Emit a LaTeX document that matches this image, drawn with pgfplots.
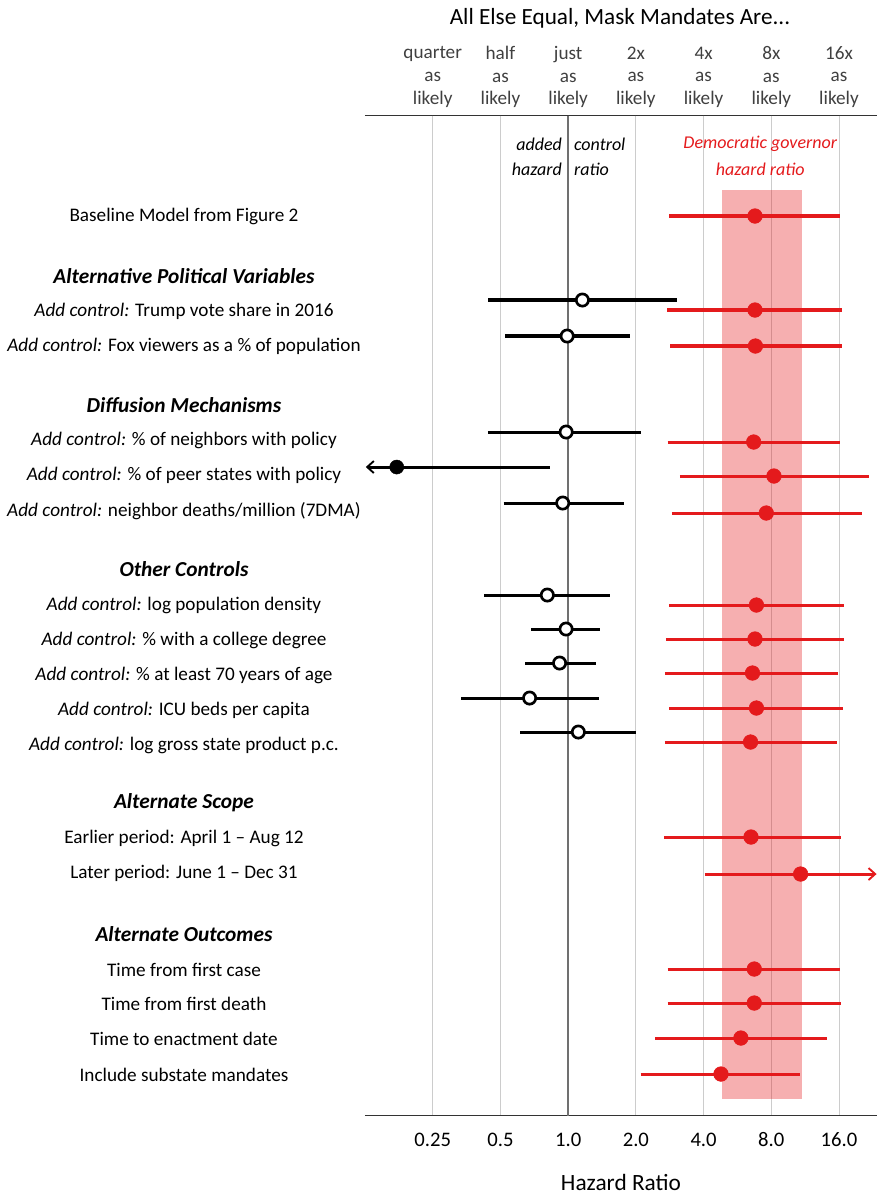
\documentclass[border=0pt]{standalone}
\usepackage{fontspec}
\setmainfont{Carlito}
\usepackage{pgfplots}
\pgfplotsset{compat=1.18}
\usetikzlibrary{arrows.meta}
\definecolor{dred}{HTML}{E41A1C}
\definecolor{gridgray}{HTML}{CCCCCC}
\definecolor{midgray}{HTML}{707070}
\definecolor{toptext}{HTML}{404040}
\newcommand{\lblfont}{\fontsize{14.4}{17}\selectfont}
\newcommand{\hdrfont}{\fontsize{16}{19}\selectfont\bfseries\itshape}
\begin{document}
\begin{tikzpicture}
\useasboundingbox (-273.75pt,-58.7pt) rectangle (385.5pt,836.8pt);
% top axis with verbal tick labels
\begin{axis}[
  at={(0,0)}, anchor=south west,
  scale only axis, width=384pt, height=750pt,
  xmode=log, log basis x=2, xmin=0.125, xmax=23.6,
  ymin=115.7, ymax=1115.7, y dir=reverse,
  axis x line*=top, axis y line=none,
  x axis line style={black!80, line width=1.1pt},
  major tick length=0pt,
  xtick={0.25,0.5,1,2,4,8,16},
  xticklabels={quarter\\as\\likely, half\\as\\likely, just\\as\\likely, 2x\\as\\likely, 4x\\as\\likely, 8x\\as\\likely, 16x\\as\\likely},
  xticklabel style={align=center, anchor=center, yshift=29pt, font=\lblfont, text=toptext},
]
\addplot[draw=none] coordinates {(1,500)};
\end{axis}
\begin{axis}[
  at={(0,0)}, anchor=south west,
  scale only axis, width=384pt, height=750pt,
  xmode=log, log basis x=2, xmin=0.125, xmax=23.6,
  ymin=115.7, ymax=1115.7, y dir=reverse,
  axis x line*=bottom, axis y line=none,
  x axis line style={black!80, line width=1.1pt},
  major tick length=0pt,
  xtick={0.25,0.5,1,2,4,8,16},
  xticklabels={0.25,0.5,1.0,2.0,4.0,8.0,16.0},
  xticklabel style={anchor=center, yshift=-18pt, font=\fontsize{15.5}{18}\selectfont},
  xmajorgrids, grid style={gridgray, line width=0.75pt},
  xlabel={Hazard Ratio},
  xlabel style={at={(axis description cs:0.5,0)}, anchor=center, inner sep=0pt, yshift=-50pt, font=\fontsize{17.5}{20}\selectfont},
  clip=false,
]
% shaded band
\addplot[fill=dred, fill opacity=0.35, draw=none] coordinates {(4.84,190) (11.0,190) (11.0,1099) (4.84,1099)} -- cycle;
% reference line at 1
\addplot[midgray, line width=1.5pt] coordinates {(1,115.7) (1,1115.7)};
% black CIs
\addplot[black, line width=2.3pt, unbounded coords=jump] coordinates {
(0.441,300) (3.04,300) (nan,nan)
(0.525,336) (1.88,336) (nan,nan)
(0.44,432) (2.11,432) (nan,nan)
(0.516,503) (1.78,503) (nan,nan)
(0.424,595) (1.53,595) (nan,nan)
(0.686,629) (1.385,629) (nan,nan)
(0.645,663) (1.33,663) (nan,nan)
(0.335,698) (1.37,698) (nan,nan)
(0.613,732) (2.0,732)
};
\addplot[black, line width=2.3pt, -{Straight Barb[length=5pt,width=9pt,line width=1.4pt]}] coordinates {(0.83,467) (0.126,467)};
% red CIs
\addplot[draw=dred, line width=2.3pt, unbounded coords=jump] coordinates {
(2.81,216) (16.1,216) (nan,nan)
(2.76,310) (16.5,310) (nan,nan)
(2.84,346) (16.5,346) (nan,nan)
(2.77,442) (16.1,442) (nan,nan)
(3.14,476) (21.8,476) (nan,nan)
(2.89,513) (20.2,513) (nan,nan)
(2.81,605) (16.9,605) (nan,nan)
(2.72,639) (16.9,639) (nan,nan)
(2.69,673) (15.9,673) (nan,nan)
(2.81,708) (16.7,708) (nan,nan)
(2.69,742) (15.6,742) (nan,nan)
(2.67,837) (16.3,837) (nan,nan)
(2.77,969) (16.1,969) (nan,nan)
(2.77,1003) (16.3,1003) (nan,nan)
(2.44,1038) (14.1,1038) (nan,nan)
(2.10,1074) (10.76,1074)
};
\addplot[draw=dred, line width=2.3pt, -{Straight Barb[length=5pt,width=9pt,line width=1.4pt]}] coordinates {(4.05,874) (23.5,874)};
% black points (open)
\addplot[black, only marks, mark=*, mark size=4.6pt, mark options={fill=white, draw=black, line width=2pt}] coordinates {
(1.157,300) (0.99,336) (0.98,432) (0.946,503) (0.808,595) (0.979,629) (0.916,663) (0.674,698) (1.11,732)
};
% black filled point
\addplot[black, only marks, mark=*, mark size=5.3pt, mark options={fill=black, draw=black, line width=0.3pt}] coordinates {(0.173,467)};
% red points
\addplot[dred, only marks, mark=*, mark size=5.5pt, mark options={fill=dred, draw=dred, line width=0.4pt}] coordinates {
(6.77,216) (6.77,310) (6.80,346) (6.68,442) (8.22,476) (7.60,513) (6.87,605) (6.77,639) (6.60,673) (6.87,708) (6.47,742) (6.50,837) (10.8,874) (6.72,969) (6.72,1003) (5.86,1038) (4.78,1074)
};
% annotations
\node[anchor=east, inner sep=0pt, xshift=-4.5pt, font=\fontsize{13.5}{16}\selectfont\itshape] at (axis cs:1,144) {added};
\node[anchor=east, inner sep=0pt, xshift=-4.5pt, font=\fontsize{13.5}{16}\selectfont\itshape] at (axis cs:1,169) {hazard};
\node[anchor=west, inner sep=0pt, xshift=4.3pt, font=\fontsize{13.5}{16}\selectfont\itshape] at (axis cs:1,144) {control};
\node[anchor=west, inner sep=0pt, xshift=4.3pt, font=\fontsize{13.5}{16}\selectfont\itshape] at (axis cs:1,169) {ratio};
\node[anchor=center, inner sep=0pt, text=dred, font=\fontsize{13.5}{16}\selectfont\itshape] at (axis cs:7.14,144) {Democratic governor};
\node[anchor=center, inner sep=0pt, text=dred, font=\fontsize{13.5}{16}\selectfont\itshape] at (axis cs:7.14,169) {hazard ratio};
% title
\node[anchor=center, font=\fontsize{17.4}{20}\selectfont] at (axis cs:1.70,18) {All Else Equal, Mask Mandates Are...};
% row labels
\begin{scope}[every node/.style={anchor=center, xshift=-135.75pt, font=\lblfont}]
\node at (axis cs:0.125,216) {Baseline Model from Figure 2};
\node[font=\hdrfont] at (axis cs:0.125,276) {Alternative Political Variables};
\node at (axis cs:0.125,311) {\textit{Add control:} Trump vote share in 2016};
\node at (axis cs:0.125,346) {\textit{Add control:} Fox viewers as a \% of population};
\node[font=\hdrfont] at (axis cs:0.125,405) {Diffusion Mechanisms};
\node at (axis cs:0.125,440) {\textit{Add control:} \% of neighbors with policy};
\node at (axis cs:0.125,475) {\textit{Add control:} \% of peer states with policy};
\node at (axis cs:0.125,511) {\textit{Add control:} neighbor deaths/million (7DMA)};
\node[font=\hdrfont] at (axis cs:0.125,569) {Other Controls};
\node at (axis cs:0.125,605) {\textit{Add control:} log population density};
\node at (axis cs:0.125,640) {\textit{Add control:} \% with a college degree};
\node at (axis cs:0.125,675) {\textit{Add control:} \% at least 70 years of age};
\node at (axis cs:0.125,710) {\textit{Add control:} ICU beds per capita};
\node at (axis cs:0.125,745) {\textit{Add control:} log gross state product p.c.};
\node[font=\hdrfont] at (axis cs:0.125,803) {Alternate Scope};
\node at (axis cs:0.125,838) {Earlier period: April 1 -- Aug 12};
\node at (axis cs:0.125,873) {Later period: June 1 -- Dec 31};
\node[font=\hdrfont] at (axis cs:0.125,934) {Alternate Outcomes};
\node at (axis cs:0.125,970) {Time from first case};
\node at (axis cs:0.125,1004) {Time from first death};
\node at (axis cs:0.125,1039) {Time to enactment date};
\node at (axis cs:0.125,1075) {Include substate mandates};
\end{scope}
\end{axis}
\end{tikzpicture}
\end{document}
